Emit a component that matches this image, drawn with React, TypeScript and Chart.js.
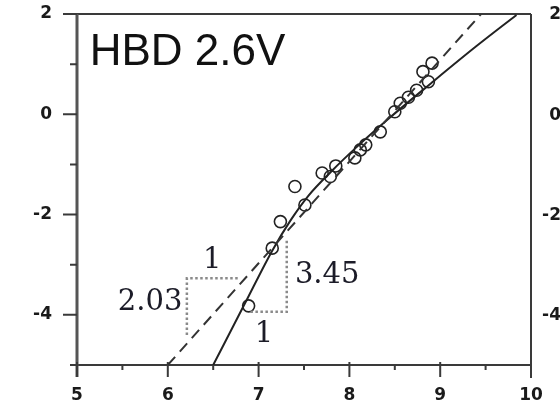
import React, { useEffect, useRef } from "react";
import { Chart, registerables } from "chart.js";

Chart.register(...registerables);

// ---- data ----
const pointX = [6.89, 7.15, 7.24, 7.40, 7.51, 7.70, 7.79, 7.85, 8.06, 8.12, 8.18, 8.34, 8.50, 8.56, 8.65, 8.74, 8.87, 8.81, 8.91];
const pointY = [-3.82, -2.67, -2.14, -1.44, -1.81, -1.17, -1.24, -1.03, -0.87, -0.71, -0.61, -0.35, 0.05, 0.22, 0.34, 0.48, 0.65, 0.85, 1.02];

const solidX = [6.5, 6.85, 7.15, 7.35, 7.55, 7.8, 8.1, 8.45, 8.9, 9.4, 9.84];
const solidY = [-5.0, -3.77, -2.72, -2.12, -1.62, -1.14, -0.62, -0.06, 0.62, 1.36, 1.98];

const dashX = [6.0, 9.45];
const dashY = [-5.0, 2.0];

const tri1X = [6.77, 6.21, 6.21];
const tri1Y = [-3.27, -3.27, -4.42];
const tri2X = [6.91, 7.31, 7.31];
const tri2Y = [-3.94, -3.94, -2.47];

const xTickValues = [5, 6, 7, 8, 9, 10];
const xTickLabels = ["5", "6", "7", "8", "9", "10"];
const xMinorTicks = [5.5, 6.5, 7.5, 8.5, 9.5];
const yTickValues = [-4, -2, 0, 2];
const yTickLabels = ["-4", "-2", "0", "2"];
const yMinorTicks = [-5, -3, -1, 1];

const titleText = "HBD 2.6V";
const slopeLabels = ["1", "2.03", "1", "3.45"];

const zip = (xs: number[], ys: number[]) => xs.map((x, i) => ({ x, y: ys[i] }));

const framePlugin = {
  id: "frame",
  beforeDatasetsDraw(chart: any) {
    const { ctx, chartArea: a, scales } = chart;
    const xs = scales.x;
    const ys = scales.y;
    ctx.save();
    ctx.strokeStyle = "#3a3a3a";
    ctx.lineWidth = 2;
    ctx.beginPath();
    ctx.moveTo(a.left, a.top);
    ctx.lineTo(a.right, a.top);
    ctx.moveTo(a.right, a.top);
    ctx.lineTo(a.right, a.bottom + 13);
    ctx.moveTo(a.left - 7, a.bottom);
    ctx.lineTo(a.right, a.bottom);
    ctx.stroke();
    ctx.strokeStyle = "#555";
    ctx.lineWidth = 3;
    ctx.beginPath();
    ctx.moveTo(a.left, a.top);
    ctx.lineTo(a.left, a.bottom + 12);
    ctx.stroke();
    ctx.strokeStyle = "#3a3a3a";
    ctx.lineWidth = 2;
    ctx.beginPath();
    yTickValues.forEach((v) => {
      const p = ys.getPixelForValue(v);
      ctx.moveTo(a.left - 14, p);
      ctx.lineTo(a.left, p);
    });
    yMinorTicks.forEach((v) => {
      const p = ys.getPixelForValue(v);
      ctx.moveTo(a.left - 7, p);
      ctx.lineTo(a.left, p);
    });
    xTickValues.forEach((v) => {
      const p = xs.getPixelForValue(v);
      ctx.moveTo(p, a.bottom - 3);
      ctx.lineTo(p, a.bottom + 12);
    });
    xMinorTicks.forEach((v) => {
      const p = xs.getPixelForValue(v);
      ctx.moveTo(p, a.bottom);
      ctx.lineTo(p, a.bottom + 5);
    });
    ctx.stroke();
    ctx.fillStyle = "#1a1a1a";
    ctx.font = "bold 17px 'DejaVu Sans'";
    ctx.textAlign = "right";
    ctx.textBaseline = "middle";
    yTickValues.forEach((v, i) => {
      ctx.fillText(yTickLabels[i], chart.width + 1, ys.getPixelForValue(v) + 1);
    });
    ctx.restore();
  },
  afterDatasetsDraw(chart: any) {
    const { ctx, scales } = chart;
    const xs = scales.x;
    const ys = scales.y;
    ctx.save();
    ctx.fillStyle = "#111";
    ctx.font = "44px 'Liberation Sans'";
    ctx.textAlign = "left";
    ctx.textBaseline = "alphabetic";
    ctx.fillText(titleText, xs.getPixelForValue(5.14), ys.getPixelForValue(0.98));
    ctx.fillStyle = "#1c1c28";
    ctx.font = "29px 'DejaVu Serif'";
    ctx.textBaseline = "middle";
    ctx.textAlign = "center";
    ctx.fillText(slopeLabels[0], xs.getPixelForValue(6.49), ys.getPixelForValue(-2.92));
    ctx.textAlign = "right";
    ctx.fillText(slopeLabels[1], xs.getPixelForValue(6.16), ys.getPixelForValue(-3.76));
    ctx.textAlign = "center";
    ctx.fillText(slopeLabels[2], xs.getPixelForValue(7.06), ys.getPixelForValue(-4.40));
    ctx.textAlign = "left";
    ctx.fillText(slopeLabels[3], xs.getPixelForValue(7.40), ys.getPixelForValue(-3.21));
    ctx.restore();
  },
};

export default function App() {
  const ref = useRef<HTMLCanvasElement>(null);
  useEffect(() => {
    if (!ref.current) return;
    const tickFont = { family: "'DejaVu Sans'", size: 17, weight: "bold" as const };
    const chart = new Chart(ref.current, {
      type: "scatter",
      data: {
        datasets: [
          {
            label: "tri1",
            data: zip(tri1X, tri1Y),
            showLine: true,
            borderColor: "#8a8a8a",
            borderWidth: 2.5,
            borderDash: [2.5, 2.5],
            pointRadius: 0,
          },
          {
            label: "tri2",
            data: zip(tri2X, tri2Y),
            showLine: true,
            borderColor: "#8a8a8a",
            borderWidth: 2.5,
            borderDash: [2.5, 2.5],
            pointRadius: 0,
          },
          {
            label: "dashed",
            data: zip(dashX, dashY),
            showLine: true,
            borderColor: "#333",
            borderWidth: 2,
            borderDash: [11, 7],
            pointRadius: 0,
          },
          {
            label: "solid",
            data: zip(solidX, solidY),
            showLine: true,
            borderColor: "#222",
            borderWidth: 2,
            cubicInterpolationMode: "monotone",
            pointRadius: 0,
          },
          {
            label: "points",
            data: zip(pointX, pointY),
            showLine: false,
            pointStyle: "circle",
            pointRadius: 6,
            borderWidth: 1.6,
            borderColor: "#222",
            backgroundColor: "rgba(0,0,0,0)",
          },
        ],
      },
      options: {
        responsive: false,
        animation: false,
        layout: { padding: { top: 14, right: 29, left: 0, bottom: 0 } },
        plugins: { legend: { display: false }, tooltip: { enabled: false } },
        scales: {
          x: {
            type: "linear",
            min: 5,
            max: 10,
            grid: { display: false, drawTicks: false },
            border: { display: false },
            afterBuildTicks: (s: any) => {
              s.ticks = xTickValues.map((v) => ({ value: v }));
            },
            afterFit: (s: any) => {
              s.height = 40;
              s.paddingLeft = 0;
              s.paddingRight = 0;
            },
            ticks: {
              padding: 20,
              color: "#1a1a1a",
              font: tickFont,
              maxRotation: 0,
              autoSkip: false,
              callback: (_v: any, i: number) => xTickLabels[i],
            },
          },
          y: {
            type: "linear",
            min: -5,
            max: 2,
            grid: { display: false, drawTicks: false },
            border: { display: false },
            afterBuildTicks: (s: any) => {
              s.ticks = yTickValues.map((v) => ({ value: v }));
            },
            afterFit: (s: any) => {
              s.width = 77;
              s.paddingTop = 0;
              s.paddingBottom = 0;
            },
            ticks: {
              padding: 25,
              color: "#1a1a1a",
              font: tickFont,
              autoSkip: false,
              callback: (_v: any, i: number) => yTickLabels[i],
            },
          },
        },
      },
      plugins: [framePlugin],
    });
    return () => chart.destroy();
  }, []);
  return (
    <div style={{ position: "fixed", left: 0, top: 0, width: 560, height: 405, background: "#fff" }}>
      <canvas ref={ref} width={560} height={405} style={{ display: "block" }} />
    </div>
  );
}
